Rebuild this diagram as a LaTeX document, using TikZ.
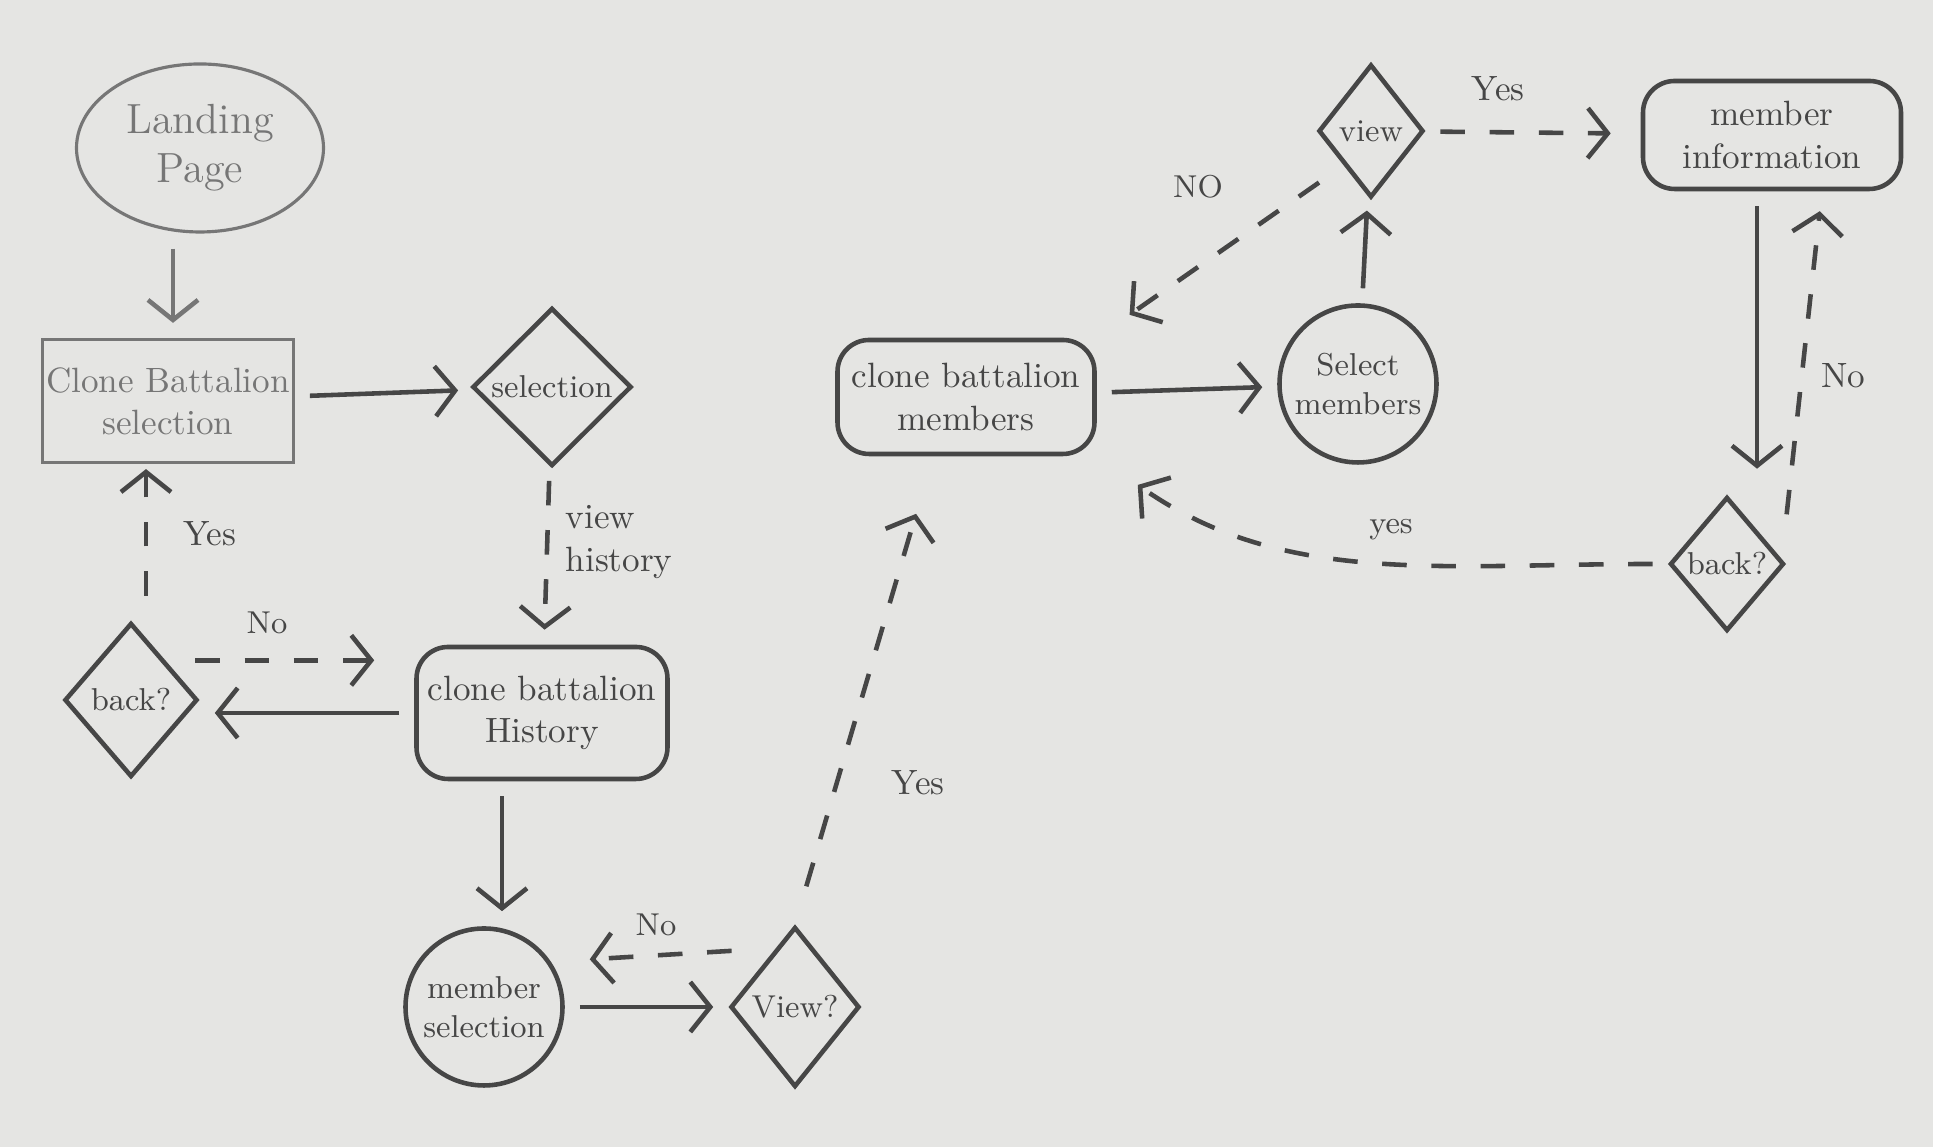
\documentclass[tikz,border=0pt]{standalone}
\usepackage{tikz}
\usetikzlibrary{shapes.geometric, arrows.meta}
\definecolor{paper}{RGB}{229,229,227}
\definecolor{pencil}{RGB}{70,70,70}
\definecolor{faint}{RGB}{118,118,118}
\tikzset{>={Straight Barb[length=2mm,width=5mm]}}
\tikzset{
    start/.style={draw=faint, line width=0.9pt, ellipse, align=center, font=\large, text=faint, minimum width=2.47cm, minimum height=1.68cm},
    plainbox/.style={draw=faint, line width=0.9pt, rectangle, align=center, text=faint, inner sep=1pt, minimum width=2.37cm, minimum height=1.23cm},
    screen/.style={draw=pencil, rounded corners=9pt, align=center, text=pencil, inner sep=1pt},
    pick/.style={draw=pencil, circle, align=center, font=\small, text=pencil, inner sep=0pt, minimum size=1.57cm},
    choice/.style={draw=pencil, diamond, font=\small, text=pencil, inner sep=0pt},
    note/.style={text=pencil, inner sep=1pt},
    flow/.style={->, draw=pencil, shorten >=1.5mm, shorten <=1.5mm},
    maybe/.style={->, draw=pencil, dash pattern=on 7pt off 7pt, shorten >=1.5mm, shorten <=1.5mm}
}

\begin{document}
\begin{tikzpicture}[line width=1.3pt]
    \fill[paper] (0,0) rectangle (19.33,11.47);
    \node[start] (landing) at (2.00,9.99) {Landing\\Page};
    \node[plainbox] (cbs) at (1.68,7.46) {Clone Battalion\\selection};
    \node[choice, minimum width=1.59cm, minimum height=1.58cm] (sel) at (5.52,7.60) {selection};
    \node[choice, minimum width=1.33cm, minimum height=1.54cm] (backl) at (1.31,4.47) {back?};
    \node[screen, minimum width=2.51cm, minimum height=1.32cm] (hist) at (5.42,4.34) {clone battalion\\History};
    \node[pick] (ms) at (4.84,1.40) {member\\selection};
    \node[choice, minimum width=1.29cm, minimum height=1.60cm] (viewq) at (7.95,1.40) {View?};
    \node[screen, minimum width=2.57cm, minimum height=1.14cm] (cbm) at (9.66,7.50) {clone battalion\\members};
    \node[pick] (selm) at (13.58,7.63) {Select\\members};
    \node[choice, minimum width=1.05cm, minimum height=1.33cm] (viewt) at (13.71,10.16) {view};
    \node[screen, minimum width=2.58cm, minimum height=1.08cm] (minfo) at (17.72,10.12) {member\\information};
    \node[choice, minimum width=1.14cm, minimum height=1.34cm] (backr) at (17.27,5.83) {back?};
    \draw[flow, draw=faint] ([xshift=-2.7mm]landing.south) -- ([xshift=-2.7mm]landing.south |- cbs.north);
    \draw[flow] (cbs) -- (sel);
    \draw[maybe] (sel) -- (hist);
    \draw[flow] (hist.west) -- (hist.west -| backl.east);
    \draw[maybe, shorten <=2.5mm, shorten >=0.5mm] ([xshift=1.5mm]backl.north) -- ([xshift=1.5mm]backl.north |- cbs.south);
    \draw[maybe, shorten <=3mm, shorten >=4mm] (backl.north east) -- (backl.north east -| hist.west);
    \draw[flow] ([xshift=-4mm]hist.south) -- ([xshift=-4mm]hist.south |- ms.north);
    \draw[flow] (ms) -- (viewq);
    \draw[maybe, shorten <=0mm, shorten >=2.5mm] ([shift={(-3mm,1.5mm)}]viewq.north west) -- ([yshift=0.5mm]viewq.north west -| ms.east);
    \draw[maybe, shorten <=4mm, shorten >=6mm] (viewq.north) -- ([xshift=-3.3mm]cbm.south);
    \draw[flow] (cbm) -- (selm);
    \draw[flow] (selm) -- (viewt);
    \draw[maybe, shorten >=3mm] (viewt) -- (minfo);
    \draw[maybe, shorten <=3mm, shorten >=4mm] (viewt.south west) -- (cbm.north east);
    \draw[flow, shorten >=2.6mm] ([xshift=-1.5mm]minfo.south) -- ([xshift=-1.5mm]minfo.south |- backr.north);
    \draw[maybe, shorten <=0mm, shorten >=2mm] ([shift={(3mm,1.5mm)}]backr.north east) -- ([xshift=5mm]minfo.south);
    \draw[maybe, shorten >=5mm] (backr.west) to[out=180, in=-35] (cbm.south east);
    \node[note] (yesl) at (2.10,6.13) {Yes};
    \node[note, font=\small] (nol) at (2.67,5.24) {No};
    \node[note, align=left, anchor=west] (histlbl) at (5.60,6.05) {view\\history};
    \node[note, font=\small] (nob) at (6.56,2.22) {No};
    \node[note] (yesb) at (9.18,3.64) {Yes};
    \node[note, font=\small] (not) at (11.98,9.60) {NO};
    \node[note] (yest) at (14.98,10.58) {Yes};
    \node[note] (nor) at (18.43,7.71) {No};
    \node[note, font=\small] (yesr) at (13.91,6.17) {yes};
\end{tikzpicture}
\end{document}
